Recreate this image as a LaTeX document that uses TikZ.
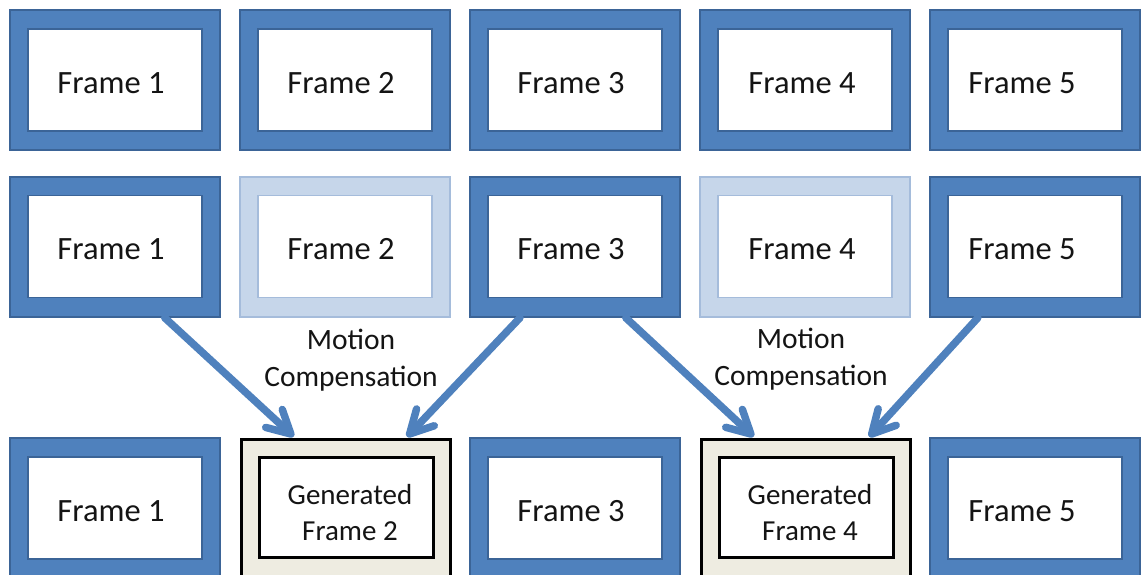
\documentclass[tikz,border=0pt]{standalone}
\usepackage{fontspec}
\setmainfont{Carlito}
\usetikzlibrary{calc}
\definecolor{fblue}{HTML}{4F81BD}
\definecolor{fdark}{HTML}{3B6497}
\definecolor{lfill}{HTML}{C6D6EA}
\definecolor{ldraw}{HTML}{A5BCDB}
\definecolor{gfill}{HTML}{EEECE1}
\definecolor{txt}{HTML}{141414}
\tikzset{
  outerbox/.style={rectangle, minimum width=210pt, minimum height=140pt, inner sep=0pt, fill=fblue, draw=fdark, line width=1.5pt},
  innerbox/.style={rectangle, minimum width=174pt, minimum height=102pt, inner sep=0pt, fill=white, draw=fdark, line width=1.5pt},
  framelabel/.style={text=txt, font=\fontsize{32.5}{36}\selectfont},
  fadedouter/.style={outerbox, fill=lfill, draw=ldraw},
  fadedinner/.style={innerbox, draw=ldraw},
  genouter/.style={rectangle, minimum width=209pt, minimum height=137pt, inner sep=0pt, fill=gfill, draw=black, line width=3pt},
  geninner/.style={rectangle, minimum width=174pt, minimum height=100pt, inner sep=0pt, fill=white, draw=black, line width=3pt},
  genlabel/.style={text=txt, align=center, font=\fontsize{29}{36}\selectfont},
  mclabel/.style={align=center, text=txt, font=\fontsize{29.5}{37}\selectfont},
  mcline/.style={draw=fblue, line width=7.5pt, line cap=round, shorten >=4pt},
  mchead/.style={draw=fblue, line width=7.5pt, line cap=round, line join=round}
}
\begin{document}
\begin{tikzpicture}[x=1pt,y=-1pt]
\useasboundingbox (0,0) rectangle (1141,574);
% row 1
\foreach \i/\x/\t in {1/115/111,2/345/341,3/575/571,4/805/802,5/1035/1022}{
  \node[outerbox] (o1\i) at (\x,80) {};
  \node[innerbox] (a\i) at (\x,80) {};
  \node[framelabel] (ta\i) at (\t,83) {Frame \i};
}
% row 2
\node[outerbox] (o21) at (115,247) {};
\node[innerbox] (b1) at (115,246.5) {};
\node[fadedouter] (o22) at (345,247) {};
\node[fadedinner] (b2) at (345,246.5) {};
\node[outerbox] (o23) at (575,247) {};
\node[innerbox] (b3) at (575,246.5) {};
\node[fadedouter] (o24) at (805,247) {};
\node[fadedinner] (b4) at (805,246.5) {};
\node[outerbox] (o25) at (1035,247) {};
\node[innerbox] (b5) at (1035,246.5) {};
\foreach \i/\t in {1/111,2/341,3/571,4/802,5/1022}{
  \node[framelabel] (tb\i) at (\t,249) {Frame \i};
}
% row 3
\node[outerbox] (o31) at (115,508) {};
\node[innerbox] (c1) at (115,508) {};
\node[framelabel] (tc1) at (111,511) {Frame 1};
\node[genouter] (o32) at (346,508) {};
\node[geninner] (c2) at (346,507.5) {};
\node[genlabel] (tc2) at (350,513) {Generated\\Frame 2};
\node[outerbox] (o33) at (575,508) {};
\node[innerbox] (c3) at (575,508) {};
\node[framelabel] (tc3) at (571,511) {Frame 3};
\node[genouter] (o34) at (806,508) {};
\node[geninner] (c4) at (806,507.5) {};
\node[genlabel] (tc4) at (810,513) {Generated\\Frame 4};
\node[outerbox] (o35) at (1035,508) {};
\node[innerbox] (c5) at (1035,508) {};
\node[framelabel] (tc5) at (1022,511) {Frame 5};
% labels
\node[mclabel] (m1) at (351,360) {Motion\\Compensation};
\node[mclabel] (m2) at (801,359) {Motion\\Compensation};
% arrows
\coordinate (s1) at ($(o21.south west)!0.735!(o21.south east)$);
\coordinate (e1) at ($(o32.north west)!0.24!(o32.north east)+(0,-4)$);
\coordinate (s2) at ($(o23.south west)!0.24!(o23.south east)$);
\coordinate (e2) at ($(o32.north west)!0.80!(o32.north east)+(0,-4)$);
\coordinate (s3) at ($(o23.south west)!0.74!(o23.south east)$);
\coordinate (e3) at ($(o34.north west)!0.24!(o34.north east)+(0,-4)$);
\coordinate (s4) at ($(o25.south west)!0.23!(o25.south east)$);
\coordinate (e4) at ($(o34.north west)!0.81!(o34.north east)+(0,-4)$);
\foreach \k in {1,2,3,4}{
  \draw[mcline] (s\k) -- (e\k);
  \draw[mchead] ($(e\k)!26pt!28:(s\k)$) -- (e\k) -- ($(e\k)!26pt!-28:(s\k)$);
}
\end{tikzpicture}
\end{document}
